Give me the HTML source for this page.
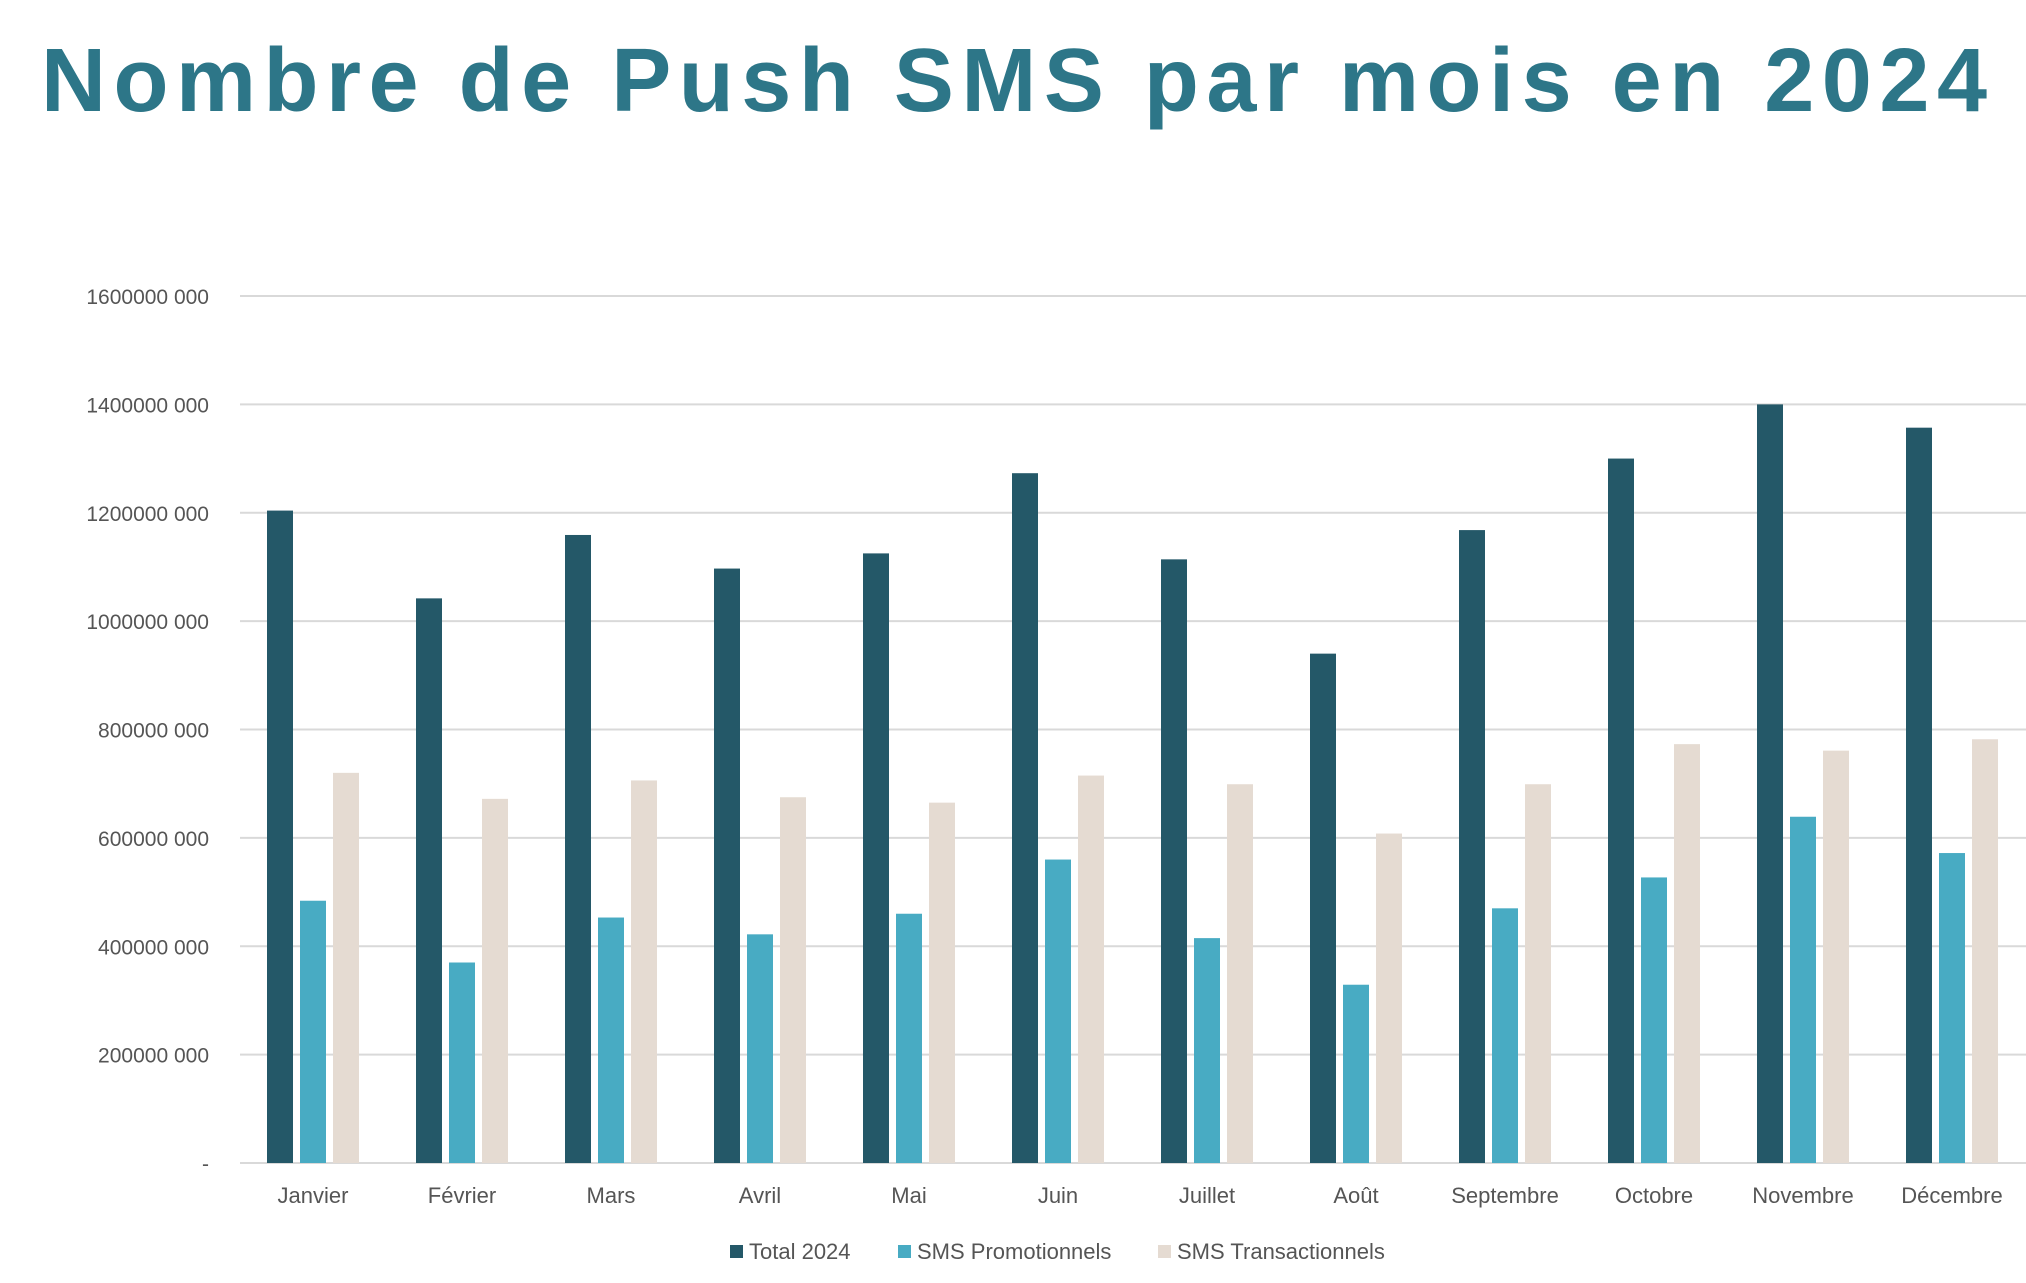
<!DOCTYPE html>
<html><head><meta charset="utf-8"><style>
html,body{margin:0;padding:0;background:#fff;}
svg{display:block;font-family:"Liberation Sans",sans-serif;}
</style></head><body>
<svg id="chart" width="2026" height="1283" viewBox="0 0 2026 1283" xmlns="http://www.w3.org/2000/svg">
<text x="41" y="111" font-size="90" font-weight="bold" fill="#2d7688" textLength="1946" lengthAdjust="spacing">Nombre de Push SMS par mois en 2024</text>
<g id="grid"></g><g id="bars"></g><g id="labels"></g>
<g font-size="22" fill="#555">
<rect x="730" y="1245" width="13" height="13" fill="#245868"/>
<text x="749" y="1259">Total 2024</text>
<rect x="898" y="1245" width="13" height="13" fill="#48abc3"/>
<text x="917" y="1259">SMS Promotionnels</text>
<rect x="1158" y="1245" width="13" height="13" fill="#e5dbd2"/>
<text x="1177" y="1259">SMS Transactionnels</text>
</g>
</svg>
<script>
const months = ["Janvier","Février","Mars","Avril","Mai","Juin","Juillet","Août","Septembre","Octobre","Novembre","Décembre"];
const total2024 = [1204,1042,1159,1097,1125,1273,1114,940,1168,1300,1400,1357];
const smsPromo = [484,370,453,422,460,560,415,329,470,527,639,572];
const smsTrans = [720,672,706,675,665,715,699,608,699,773,761,782];
const tickValues = [0,200,400,600,800,1000,1200,1400,1600];
const tickLabels = ["-","200000 000","400000 000","600000 000","800000 000","1000000 000","1200000 000","1400000 000","1600000 000"];

const NS="http://www.w3.org/2000/svg";
const y0=1163, y1=296, vmax=1600;
function yScale(v){return y0-(v/vmax)*(y0-y1);}
const x0=313, step=149;
function xCenter(i){return x0+i*step;}
const grid=document.getElementById('grid'), bars=document.getElementById('bars'), labels=document.getElementById('labels');
function mk(t,a,p){const e=document.createElementNS(NS,t);for(const k in a)e.setAttribute(k,a[k]);p.appendChild(e);return e;}
tickValues.forEach((v,i)=>{
  const y=yScale(v);
  const l=mk('line',{x1:240,x2:2026,y1:y,y2:y,stroke:'#d9d9d9','stroke-width':2},grid);
  
  
  const t=mk('text',{x:209,y:y+8,'text-anchor':'end','font-size':21,fill:'#555'},labels);
  t.textContent=tickLabels[i];
  
  
});
const series=[[total2024,'#245868',-1,'bar-total'],[smsPromo,'#48abc3',0,'bar-promo'],[smsTrans,'#e5dbd2',1,'bar-trans']];
const bw=26, gap=33;
months.forEach((m,i)=>{
  const cx=xCenter(i);
  series.forEach(s=>{
    const v=s[0][i], y=yScale(v);
    const r=mk('rect',{x:cx+s[2]*gap-bw/2,y:y,width:bw,height:y0-y,fill:s[1]},bars);
    
    
  });
  const t=mk('text',{x:cx,y:1203,'text-anchor':'middle','font-size':22,fill:'#555'},labels);
  t.textContent=m;
  
  
});
</script>
</body></html>
